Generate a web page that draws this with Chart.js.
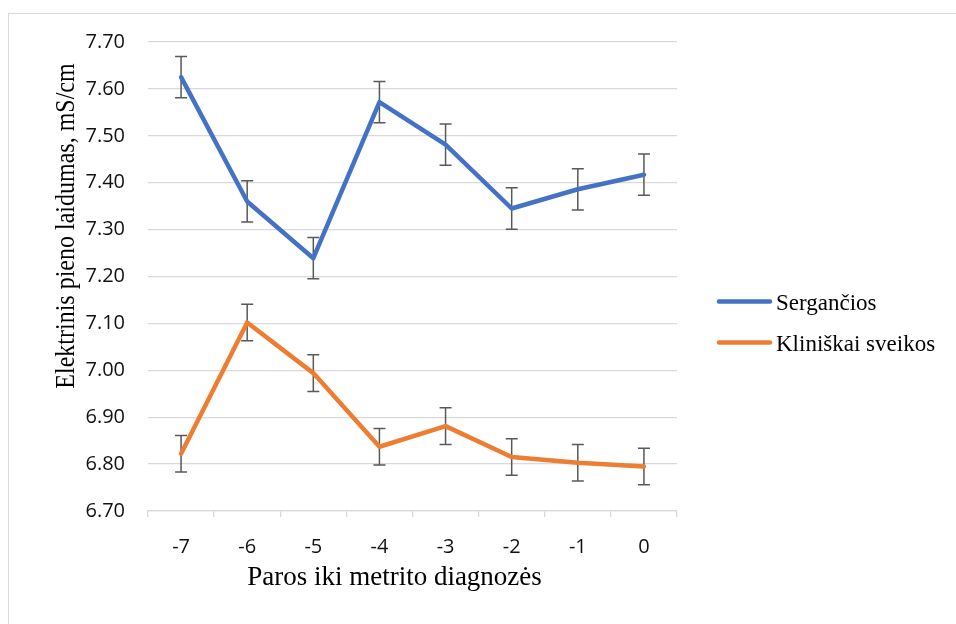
<!DOCTYPE html>
<html>
<head>
<meta charset="utf-8">
<script src="https://cdn.jsdelivr.net/npm/chart.js@4.4.1/dist/chart.umd.min.js"></script>
<style>
  html, body { margin: 0; padding: 0; background: #fff; overflow: hidden; }
  #wrap { position: relative; width: 956px; height: 624px; }
  #frame { position: absolute; left: 8px; top: 13px; width: 1000px; height: 700px; border: 1px solid #d9d9d9; box-sizing: border-box; }
  canvas { position: absolute; left: 0; top: 0; }
</style>
</head>
<body>
<div id="wrap">
  <div id="frame"></div>
  <canvas id="c" width="956" height="624"></canvas>
</div>
<script>
// ---- data ----
const categories = ['-7', '-6', '-5', '-4', '-3', '-2', '-1', '0'];
const serganciosMean = [7.625, 7.360, 7.239, 7.572, 7.481, 7.345, 7.386, 7.417];
const serganciosErr  = [0.044, 0.044, 0.044, 0.044, 0.044, 0.044, 0.044, 0.044];
const sveikosMean    = [6.822, 7.102, 6.994, 6.837, 6.881, 6.815, 6.803, 6.795];
const sveikosErr     = [0.039, 0.039, 0.039, 0.039, 0.039, 0.039, 0.039, 0.039];
const seriesLabels   = ['Sergančios', 'Kliniškai sveikos'];
const yTitle = 'Elektrinis pieno laidumas, mS/cm';
const xTitle = 'Paros iki metrito diagnozės';
const yMin = 6.70, yMax = 7.70, yStep = 0.10;

const BLUE = '#4472C4', ORANGE = '#ED7D31';
const SERIF = '"Liberation Serif", "Times New Roman", serif';

const errorBars = {
  id: 'errorBars',
  beforeDatasetsDraw(chart) {
    const ctx = chart.ctx, ys = chart.scales.y;
    chart.data.datasets.forEach((ds, di) => {
      const meta = chart.getDatasetMeta(di);
      const errs = ds.errors || [];
      ctx.save();
      ctx.strokeStyle = '#595959';
      ctx.lineWidth = 1.5;
      meta.data.forEach((pt, i) => {
        const v = ds.data[i], e = errs[i];
        const yt = ys.getPixelForValue(v + e), yb = ys.getPixelForValue(v - e);
        const x = pt.x, hw = 6;
        ctx.beginPath();
        ctx.moveTo(x, yt); ctx.lineTo(x, yb);
        ctx.moveTo(x - hw, yt); ctx.lineTo(x + hw, yt);
        ctx.moveTo(x - hw, yb); ctx.lineTo(x + hw, yb);
        ctx.stroke();
      });
      ctx.restore();
    });
  }
};

const extras = {
  id: 'extras',
  afterDraw(chart) {
    const ctx = chart.ctx;
    // y axis title
    ctx.save();
    ctx.translate(74, 226);
    ctx.rotate(-Math.PI / 2);
    ctx.scale(1, 1.18);
    ctx.font = '24px ' + SERIF;
    ctx.fillStyle = '#000';
    ctx.textAlign = 'center';
    ctx.textBaseline = 'alphabetic';
    ctx.fillText(yTitle, 0, 0);
    ctx.restore();
    // x axis title
    ctx.save();
    ctx.font = '27px ' + SERIF;
    ctx.fillStyle = '#000';
    ctx.textAlign = 'center';
    ctx.textBaseline = 'alphabetic';
    ctx.fillText(xTitle, 394.5, 585);
    ctx.restore();
    // legend
    const rows = [301.5, 342.5];
    chart.data.datasets.forEach((ds, i) => {
      const y = rows[i];
      ctx.save();
      ctx.strokeStyle = ds.borderColor;
      ctx.lineWidth = 4.5;
      ctx.lineCap = 'round';
      ctx.beginPath();
      ctx.moveTo(719, y); ctx.lineTo(770, y);
      ctx.stroke();
      ctx.font = '23px ' + SERIF;
      ctx.fillStyle = '#000';
      ctx.textAlign = 'left';
      ctx.textBaseline = 'alphabetic';
      ctx.fillText(ds.label, 776, y + 8);
      ctx.restore();
    });
  }
};

new Chart(document.getElementById('c'), {
  type: 'line',
  data: {
    labels: categories,
    datasets: [
      { label: seriesLabels[0], data: serganciosMean, errors: serganciosErr, borderColor: BLUE, backgroundColor: BLUE,
        borderWidth: 4.5, pointRadius: 0, tension: 0, borderJoinStyle: 'round', borderCapStyle: 'round' },
      { label: seriesLabels[1], data: sveikosMean, errors: sveikosErr, borderColor: ORANGE, backgroundColor: ORANGE,
        borderWidth: 4.5, pointRadius: 0, tension: 0, borderJoinStyle: 'round', borderCapStyle: 'round' }
    ]
  },
  options: {
    responsive: false,
    animation: false,
    devicePixelRatio: 1,
    layout: { padding: { left: 0, top: 42, right: 279, bottom: 0 } },
    plugins: { legend: { display: false }, tooltip: { enabled: false } },
    scales: {
      x: {
        offset: true,
        grid: { drawOnChartArea: false, drawTicks: true, tickLength: 6, color: '#d9d9d9', lineWidth: 1.3, offset: true },
        border: { display: true, color: '#d9d9d9', width: 1.3 },
        ticks: { color: '#111', padding: 18, font: { family: '"Open Sans", sans-serif', size: 20 } },
        title: { display: false },
        afterFit(s) { s.height = 113; }
      },
      y: {
        min: yMin, max: yMax,
        grid: { color: '#d9d9d9', lineWidth: 1.3, drawTicks: false },
        border: { display: false },
        ticks: { stepSize: yStep, color: '#111', padding: 23, font: { family: '"Open Sans", sans-serif', size: 20 },
                 callback: v => Number(v).toFixed(2) },
        afterFit(s) { s.width = 148; }
      }
    }
  },
  plugins: [errorBars, extras]
});
</script>
</body>
</html>
